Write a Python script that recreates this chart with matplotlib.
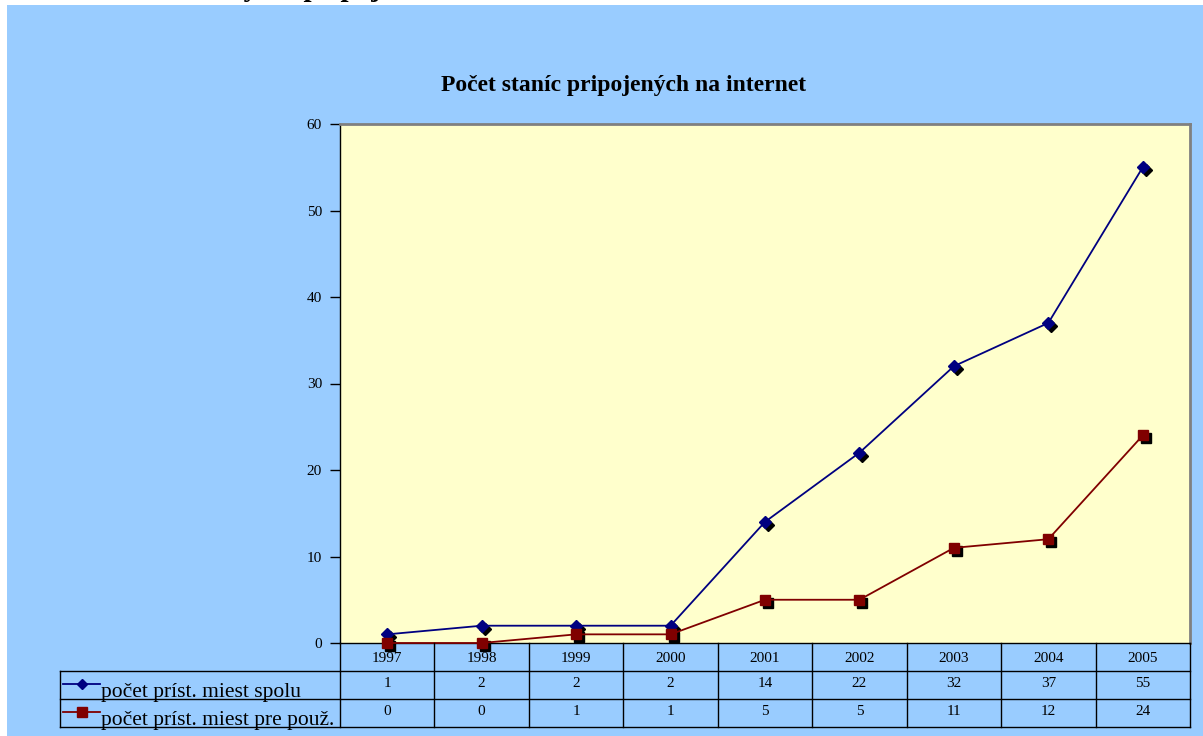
import matplotlib
matplotlib.use("Agg")
import matplotlib.pyplot as plt
from matplotlib.patches import Rectangle
from matplotlib.transforms import ScaledTranslation

# data
years = ["1997", "1998", "1999", "2000", "2001", "2002", "2003", "2004", "2005"]
spolu = [1, 2, 2, 2, 14, 22, 32, 37, 55]
pre_pouz = [0, 0, 1, 1, 5, 5, 11, 12, 24]
series_names = ["počet príst. miest spolu", "počet príst. miest pre použ."]
title = "Počet staníc pripojených na internet"

W, H = 1203, 736
DPI = 100
plt.rcParams["font.family"] = ["Liberation Serif", "DejaVu Serif"]

BLUE_BG = "#99CCFF"
PLOT_BG = "#FFFFCC"
NAVY = "#000080"
MAROON = "#800000"


def fx(px):
    return px / W


def fy(py):
    return 1 - py / H


fig = plt.figure(figsize=(W / DPI, H / DPI), dpi=DPI, facecolor="white")

# blue chart area
fig.patches.append(Rectangle((fx(7), 0), 1 - fx(7), fy(5), transform=fig.transFigure,
                             facecolor=BLUE_BG, edgecolor="none", zorder=-5))

# clipped heading of the page above the chart (only descenders visible)
fig.text(fx(153), fy(-4), "knižnicy na pripojenie", fontsize=21, fontweight="bold",
         va="baseline", ha="left", zorder=-4)

fig.text(fx(624), fy(85), title, fontsize=17, fontweight="bold",
         ha="center", va="center")

# plot area
left, right, top, bottom = 340, 1190, 124, 643
ax = fig.add_axes([fx(left), fy(bottom), fx(right - left), (bottom - top) / H])
ax.set_facecolor(PLOT_BG)
x = list(range(len(years)))
ax.set_xlim(-0.5, len(years) - 0.5)
ax.set_ylim(0, 60)
ax.set_yticks(range(0, 61, 10))
ax.set_xticks([])
ax.tick_params(axis="y", direction="out", length=7, width=1, labelsize=11, pad=6)
for s in ("top", "right"):
    ax.spines[s].set_color("#808080")
    ax.spines[s].set_linewidth(2)
for s in ("left", "bottom"):
    ax.spines[s].set_color("black")
    ax.spines[s].set_linewidth(1)

shadow = ax.transData + ScaledTranslation(3 / DPI, -3 / DPI, fig.dpi_scale_trans)
ax.plot(x, spolu, linestyle="none", marker="D", markersize=6, color="black",
        transform=shadow, clip_on=False, zorder=2)
ax.plot(x, pre_pouz, linestyle="none", marker="s", markersize=7, color="black",
        transform=shadow, clip_on=False, zorder=2)
ax.plot(x, spolu, color=NAVY, linewidth=1.3, marker="D", markersize=6,
        clip_on=False, zorder=3)
ax.plot(x, pre_pouz, color=MAROON, linewidth=1.3, marker="s", markersize=7,
        clip_on=False, zorder=3)

# data table below the plot, sharing the category scale
tb_top, tb_bottom = 643, 727
tax = fig.add_axes([fx(left), fy(tb_bottom), fx(right - left), (tb_bottom - tb_top) / H])
tax.set_xlim(ax.get_xlim())
tax.set_ylim(3, 0)
tax.axis("off")
tax.patch.set_visible(False)

col_w = (right - left) / len(years)
x_left_edge = -0.5 - (left - 60) / col_w

for i in range(len(years) + 1):
    tax.plot([i - 0.5, i - 0.5], [0, 3], color="black", linewidth=1, clip_on=False)
for r in (1, 2, 3):
    tax.plot([x_left_edge, len(years) - 0.5], [r, r], color="black", linewidth=1,
             clip_on=False)
tax.plot([x_left_edge, x_left_edge], [1, 3], color="black", linewidth=1, clip_on=False)

for i, yr in enumerate(years):
    tax.text(i, 0.55, yr, ha="center", va="center", fontsize=11)
    tax.text(i, 1.45, str(spolu[i]), ha="center", va="center", fontsize=11)
    tax.text(i, 2.45, str(pre_pouz[i]), ha="center", va="center", fontsize=11)

# legend keys in the row headers
key_x0 = x_left_edge + 3 / col_w
key_x1 = x_left_edge + 40 / col_w
for r, (name, col, mk, ms) in enumerate(zip(series_names, [NAVY, MAROON],
                                            ["D", "s"], [5, 7])):
    yc = 1.5 + r - 0.05
    tax.plot([key_x0, key_x1], [yc, yc], color=col, linewidth=1.3, clip_on=False)
    tax.plot([(key_x0 + key_x1) / 2], [yc], marker=mk, markersize=ms, color=col,
             clip_on=False)
    tax.text(key_x1 + 1 / col_w, yc + 0.3, name, ha="left", va="center",
             fontsize=15.5, clip_on=False)

fig.savefig("out.png", dpi=DPI, facecolor=fig.get_facecolor())
